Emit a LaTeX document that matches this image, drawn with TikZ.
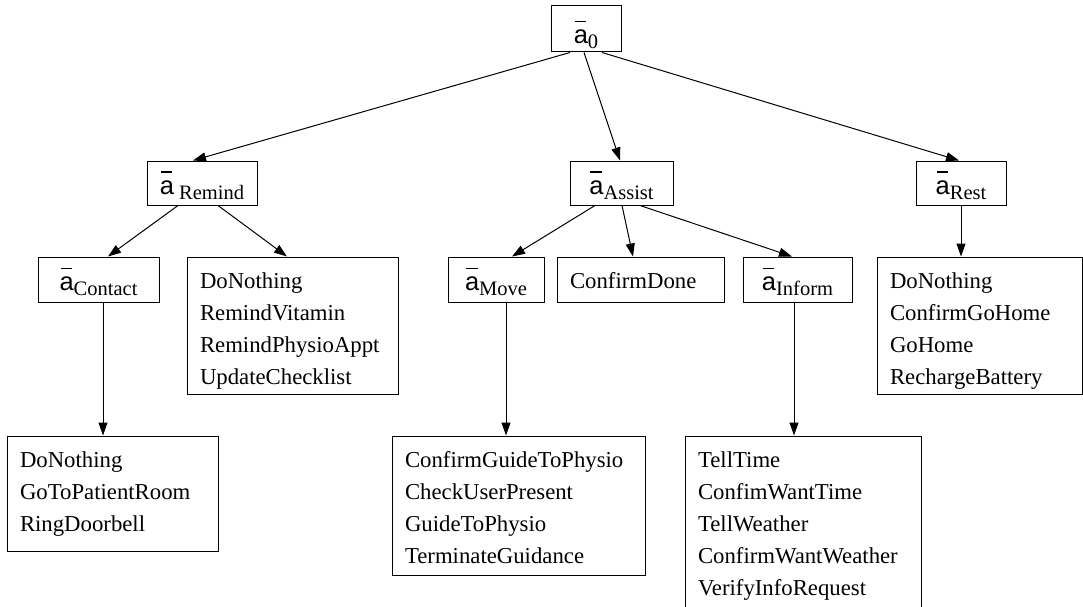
\documentclass[tikz,border=0pt]{standalone}
\usepackage{fontspec}
\setmainfont{Liberation Serif}
\newfontfamily\asans{Liberation Sans}
\usetikzlibrary{arrows.meta}

% text sizes: list entries, subscripts, and the barred action symbol
\newcommand\listfont{\fontsize{22.75pt}{32pt}\selectfont}
\newcommand\subfont{\fontsize{20.5pt}{24pt}\selectfont}
\newcommand\abarsym{{\asans\fontsize{25.5pt}{26pt}\selectfont\makebox[0pt][l]{\hspace{1pt}\raisebox{21.5pt}{\rule{11.5pt}{1.1pt}}}a}}
% \actlabel[gap]{subscript}
\newcommand\actlabel[2][0pt]{\abarsym\hspace{#1}\raisebox{-5pt}{\subfont #2}}

\begin{document}
\begin{tikzpicture}[x=1pt,y=-1pt,
  edge/.style={line width=1pt,-{Triangle[length=13pt,width=9pt]}},
  abox/.style={draw,line width=1pt,inner sep=0pt,minimum height=44pt,
    text height=22pt,text depth=0pt},
  listbox/.style={draw,line width=1pt,inner xsep=13pt,inner ysep=0pt,
    align=left,text height=31pt,font=\listfont}]
\useasboundingbox (0,0) rectangle (1083,607);

% abstract action nodes
\node[abox,minimum width=70pt,minimum height=46pt,text height=30pt] (a0) at (586,29) {\actlabel{0}};
\node[abox,minimum width=110pt] (rm) at (202,183) {\actlabel[5pt]{Remind}\hspace{-22pt}};
\node[abox,minimum width=103pt] (as) at (621.5,183) {\actlabel{Assist}};
\node[abox,minimum width=90pt]  (rs) at (961,183) {\actlabel{Rest}};
\node[abox,minimum width=121pt,minimum height=45pt] (ct) at (98.5,279.5) {\actlabel{Contact}};
\node[abox,minimum width=96pt,minimum height=45pt]  (mv) at (496,279.5) {\actlabel{Move}};
\node[abox,minimum width=109pt,minimum height=45pt] (inf) at (797.5,279.5) {\actlabel{Inform}};

% primitive action lists
\node[listbox,text width=185pt,text depth=106pt] (rl) at (292.5,325.5)
  {DoNothing\\RemindVitamin\\RemindPhysioAppt\\UpdateChecklist};
\node[listbox,text width=141pt,text depth=14pt] (cd) at (640.5,279.5)
  {ConfirmDone};
\node[listbox,text width=179pt,text depth=106pt] (rsl) at (979.5,325.5)
  {DoNothing\\ConfirmGoHome\\GoHome\\RechargeBattery};
\node[listbox,text width=185pt,text depth=84pt] (cl) at (112.5,493.5)
  {DoNothing\\GoToPatientRoom\\RingDoorbell};
\node[listbox,text width=227pt,text depth=108pt] (ml) at (518.5,505.5)
  {ConfirmGuideToPhysio\\CheckUserPresent\\GuideToPhysio\\TerminateGuidance};
\node[listbox,text width=210pt,text depth=145pt] (il) at (803,524)
  {TellTime\\ConfimWantTime\\TellWeather\\ConfirmWantWeather\\VerifyInfoRequest};

% hierarchy edges
\draw[edge] ([xshift=-16pt]a0.south) -- ([xshift=-9pt]rm.north);
\draw[edge] ([xshift=-2pt]a0.south) -- ([xshift=-1.5pt]as.north);
\draw[edge] ([xshift=16pt]a0.south) -- ([xshift=-2pt]rs.north);

\draw[edge] ([xshift=-24pt]rm.south) -- ([xshift=9.5pt]ct.north);
\draw[edge] ([xshift=16pt]rm.south) -- ([xshift=-5.5pt]rl.north);

\draw[edge] ([xshift=-26.5pt]as.south) -- ([xshift=16pt]mv.north);
\draw[edge] ([xshift=0.5pt]as.south) -- ([xshift=-7.5pt]cd.north);
\draw[edge] ([xshift=18.5pt]as.south) -- ([xshift=-5.5pt]inf.north);

\draw[edge] (rs.south) -- (rs.south |- rsl.north);
\draw[edge] ([xshift=4.5pt]ct.south) -- ([xshift=4.5pt]ct.south |- cl.north);
\draw[edge] ([xshift=10pt]mv.south) -- ([xshift=10pt]mv.south |- ml.north);
\draw[edge] ([xshift=-3.5pt]inf.south) -- ([xshift=-3.5pt]inf.south |- il.north);
\end{tikzpicture}
\end{document}
